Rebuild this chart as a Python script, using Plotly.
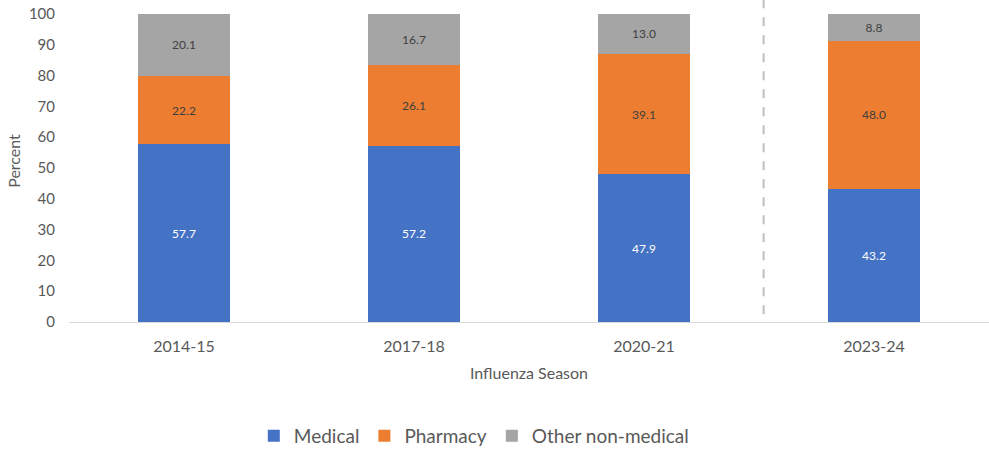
import plotly.graph_objects as go

seasons = ["2014-15", "2017-18", "2020-21", "2023-24"]
medical = [57.7, 57.2, 47.9, 43.2]
pharmacy = [22.2, 26.1, 39.1, 48.0]
other = [20.1, 16.7, 13.0, 8.8]

font = "Lato, 'Open Sans', sans-serif"

fig = go.Figure()
for name, vals, color, tcolor in [
    ("Medical", medical, "#4472C4", "white"),
    ("Pharmacy", pharmacy, "#ED7D31", "#404040"),
    ("Other non-medical", other, "#A5A5A5", "#404040"),
]:
    fig.add_trace(go.Bar(
        x=seasons, y=vals, name=name,
        marker_color=color, marker_line_width=0,
        text=[f"{v:.1f}" for v in vals],
        textposition="inside", insidetextanchor="middle",
        textangle=0, constraintext="none",
        textfont=dict(color=tcolor, size=12, family=font),
        hoverinfo="skip",
    ))

# dashed separator between 2020-21 and 2023-24
fig.add_shape(type="line", xref="x", yref="y",
              x0=2.52, x1=2.52, y0=2.5, y1=104.5,
              line=dict(color="#BFBFBF", width=2, dash="dash"))

fig.update_layout(
    barmode="stack", bargap=0.6,
    width=989, height=455,
    margin=dict(l=69, r=0, t=0, b=121),
    plot_bgcolor="white", paper_bgcolor="white",
    font=dict(family=font, color="#595959", size=15),
    legend=dict(orientation="h", x=0.44, xanchor="center",
                y=-0.354, yanchor="middle", font=dict(size=19),
                itemwidth=30, traceorder="normal"),
)
fig.update_xaxes(
    automargin=False,
    showline=True, linecolor="#D9D9D9", linewidth=1,
    ticks="", tickfont=dict(size=16), ticklabelstandoff=10,
    title=dict(text="Influenza Season", font=dict(size=16), standoff=13),
    range=[-0.5, 3.5],
)
fig.update_yaxes(
    automargin=False,
    range=[0, 104.5], tickvals=list(range(0, 101, 10)),
    showgrid=False, zeroline=False, showline=False,
    tickfont=dict(size=15), ticklabelstandoff=13,
    title=dict(text="Percent", font=dict(size=16), standoff=4),
)

fig.write_html("out.html", config={"displayModeBar": False},
               post_script="document.body.style.margin='0';")
